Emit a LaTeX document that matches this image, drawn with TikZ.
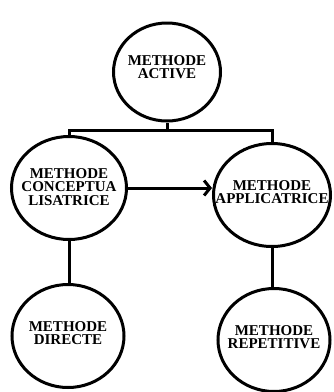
\documentclass[tikz,border=0pt]{standalone}
\usepackage{fontspec}
\setmainfont{Liberation Serif}
\usetikzlibrary{shapes.geometric,arrows.meta}

\begin{document}
\begin{tikzpicture}[x=1pt,y=-1pt,
  methode/.style={draw,ellipse,line width=3pt,minimum width=113pt,minimum height=103pt,inner sep=0pt},
  etiq/.style={align=center,inner sep=0pt,yshift=3pt,font=\bfseries\fontsize{15}{13.5}\selectfont},
  lien/.style={line width=3pt}]

\useasboundingbox (0,0) rectangle (333,392);

% methode active en haut
\node[methode,minimum width=107pt,minimum height=98pt,
  label={[etiq,yshift=2pt]center:METHODE\\ACTIVE}] (active) at (167,72) {};

% les deux methodes du milieu
\node[methode,minimum width=115pt,
  label={[etiq,yshift=-2pt]center:METHODE\\CONCEPTUA\\LISATRICE}] (concept) at (69,188) {};
\node[methode,minimum width=117pt,
  label={[etiq]center:METHODE\\APPLICATRICE}] (applic) at (272,195) {};

% les deux methodes du bas
\node[methode,minimum width=112pt,
  label={[etiq]center:METHODE\\DIRECTE}] (directe) at (68,336) {};
\node[methode,minimum width=112pt,
  label={[etiq]center:METHODE\\REPETITIVE}] (repet) at (274,340) {};

% accolade du haut
\coordinate (barre) at (167,130);
\draw[lien] (active.south) -- (barre);
\draw[lien] (concept.north) |- (barre) -| (applic.north);

% fleche entre les deux
\draw[lien,-{Straight Barb[length=6pt,width=15pt]}] (concept.east) -- (concept.east -| applic.west);

% liaisons vers le bas
\draw[lien] (concept.south) -- (concept.south |- directe.north);
\draw[lien] (applic.south) -- (applic.south |- repet.north);

\end{tikzpicture}
\end{document}
